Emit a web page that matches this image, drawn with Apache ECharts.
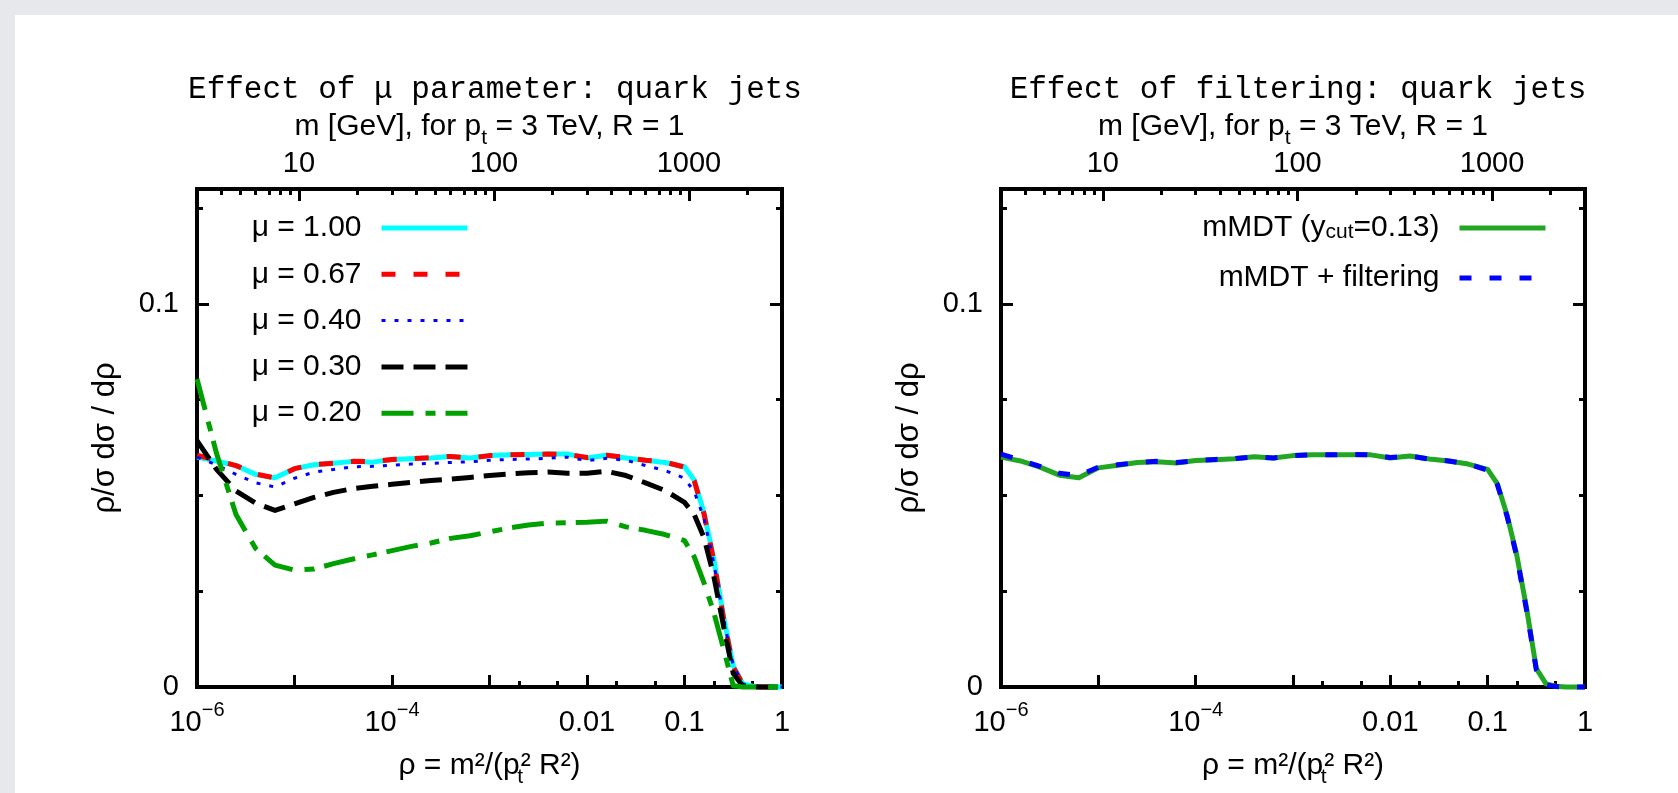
<!DOCTYPE html>
<html>
<head>
<meta charset="utf-8">
<script src="https://cdn.jsdelivr.net/npm/echarts@6/dist/echarts.min.js"></script>
<style>
html,body{margin:0;padding:0;background:#e6e8eb;}
#c{width:1678px;height:793px;}
</style>
</head>
<body>
<div id="c"></div>
<script>
// ---------------- data ----------------
// x positions: log10(rho)
const logRho = [-6.0,-5.8,-5.6,-5.4,-5.2,-5.0,-4.8,-4.6,-4.4,-4.2,-4.0,-3.8,-3.6,-3.4,-3.2,-3.0,-2.8,-2.6,-2.4,-2.2,-2.0,-1.8,-1.6,-1.4,-1.2,-1.0,-0.9,-0.8,-0.7,-0.6,-0.5,-0.4,-0.3,-0.2,-0.1,0.0];

// left panel: effect of mu
const mu100 = [0.0600,0.0590,0.0578,0.0555,0.0546,0.0570,0.0580,0.0584,0.0589,0.0587,0.0594,0.0596,0.0598,0.0602,0.0598,0.0604,0.0606,0.0607,0.0608,0.0608,0.0598,0.0605,0.0598,0.0592,0.0586,0.0575,0.0540,0.0455,0.0335,0.0185,0.0055,0.0008,0.0002,0,0,0];
const mu067 = [0.0605,0.0592,0.0578,0.0556,0.0546,0.0570,0.0581,0.0584,0.0589,0.0588,0.0594,0.0596,0.0599,0.0602,0.0598,0.0604,0.0606,0.0607,0.0608,0.0607,0.0599,0.0605,0.0599,0.0592,0.0587,0.0574,0.0538,0.0452,0.0330,0.0180,0.0052,0.0007,0.0001,0,0,0];
const mu040 = [0.0600,0.0580,0.0555,0.0533,0.0522,0.0545,0.0561,0.0568,0.0575,0.0576,0.0579,0.0582,0.0584,0.0586,0.0588,0.0592,0.0594,0.0595,0.0597,0.0600,0.0591,0.0597,0.0592,0.0578,0.0565,0.0545,0.0510,0.0440,0.0325,0.0180,0.0055,0.0008,0.0001,0,0,0];
const mu030 = [0.0643,0.0568,0.0512,0.0480,0.0461,0.0478,0.0495,0.0508,0.0518,0.0524,0.0529,0.0534,0.0539,0.0543,0.0547,0.0552,0.0556,0.0559,0.0561,0.0558,0.0558,0.0563,0.0552,0.0533,0.0513,0.0482,0.0450,0.0390,0.0290,0.0160,0.0035,0.0002,0,0,0,0];
const mu020 = [0.0804,0.0610,0.0450,0.0362,0.0318,0.0305,0.0308,0.0322,0.0334,0.0345,0.0356,0.0367,0.0376,0.0388,0.0395,0.0405,0.0415,0.0423,0.0428,0.0429,0.0430,0.0433,0.0418,0.0409,0.0398,0.0382,0.0340,0.0272,0.0195,0.0100,0.0003,0,0,0,0,0];

// right panel: effect of filtering
const mmdt = [0.0600,0.0590,0.0574,0.0553,0.0546,0.0572,0.0579,0.0586,0.0588,0.0585,0.0591,0.0593,0.0596,0.0601,0.0598,0.0604,0.0606,0.0606,0.0606,0.0606,0.0598,0.0603,0.0595,0.0590,0.0582,0.0568,0.0530,0.0448,0.0343,0.0205,0.0048,0.0008,0.0002,0,0,0];
const mmdtFilt = [0.0608,0.0592,0.0576,0.0558,0.0552,0.0574,0.0580,0.0586,0.0589,0.0586,0.0591,0.0594,0.0596,0.0601,0.0598,0.0604,0.0606,0.0606,0.0607,0.0606,0.0599,0.0603,0.0595,0.0590,0.0582,0.0566,0.0528,0.0445,0.0340,0.0200,0.0045,0.0006,0.0001,0,0,0];

// tick definitions
const bottomMajorRho = [1e-6,1e-5,1e-4,1e-3,1e-2,1e-1,1];
const bottomMinorRho = [0.002,0.005,0.02,0.05,0.2,0.5];
const bottomLabelRho = [1e-6,1e-4,0.01,0.1,1];
const bottomLabelText = ['{b|10}{s|\u22126}','{b|10}{s|\u22124}','{b|0.01}','{b|0.1}','{b|1}'];
const topMajorM = [10,100,1000];
const topMinorM = [4,5,6,7,8,9,20,30,40,50,60,70,80,90,200,300,400,500,600,700,800,900,2000];
const topLabelText = ['10','100','1000'];
const yMajor = [0,0.1];
const yMinor = [0.025,0.05,0.075,0.125];
const ptGeV = 3000, jetR = 1;

// ---------------- helpers ----------------
const SANS = '"Liberation Sans", Arial, Helvetica, sans-serif';
const MONO = '"Liberation Mono", "Courier New", monospace';
const L10 = Math.log10;
const mPos = m => 2 * L10(m / (ptGeV * jetR));
const zip = (xs, ys) => xs.map((x, i) => [x, ys[i]]);
const lookup = (pos, txt) => v => { for (let i = 0; i < pos.length; i++) if (Math.abs(pos[i] - v) < 1e-6) return txt[i]; return ''; };

const grids = [
  {left: 197, top: 189, width: 585, height: 499},
  {left: 1001, top: 189, width: 584, height: 499}
];

const FS = 29;
const tickStyle = {color: '#000', width: 3};
// tick labels: base digits centred in a tall line box, exponent at its top
const richBottom = {
  b: {fontFamily: SANS, fontSize: FS, lineHeight: 45, verticalAlign: 'middle', color: '#000'},
  s: {fontFamily: SANS, fontSize: 20, lineHeight: 20, verticalAlign: 'top', color: '#000'}
};
// name blocks: base tokens centred in a tall line box, subscript at its bottom
const richName = {
  b: {fontFamily: SANS, fontSize: 30, lineHeight: 44, verticalAlign: 'middle', color: '#000'},
  t: {fontFamily: SANS, fontSize: 21, lineHeight: 20, verticalAlign: 'bottom', color: '#000'},
  tz: {fontFamily: SANS, fontSize: 21, lineHeight: 20, verticalAlign: 'bottom', width: 1, color: '#000'}
};

const xAxes = [], yAxes = [];
grids.forEach((g, gi) => {
  xAxes.push({
    gridIndex: gi, type: 'value', position: 'bottom', min: -6, max: 0,
    axisLine: {show: false, onZero: false}, splitLine: {show: false},
    axisTick: {show: true, inside: true, length: 12, lineStyle: tickStyle, customValues: bottomMajorRho.map(L10)},
    axisLabel: {show: true, margin: 13, customValues: bottomLabelRho.map(L10),
      formatter: lookup(bottomLabelRho.map(L10), bottomLabelText), rich: richBottom},
    name: '{b|ρ = m²/(p}{tz|t}{b|² R²)}',
    nameLocation: 'middle', nameGap: 57, nameMoveOverlap: false, nameTextStyle: {rich: richName}
  });
  xAxes.push({
    gridIndex: gi, type: 'value', position: 'bottom', min: -6, max: 0,
    axisLine: {show: false, onZero: false}, splitLine: {show: false},
    axisTick: {show: true, inside: true, length: 6, lineStyle: tickStyle, customValues: bottomMinorRho.map(L10)},
    axisLabel: {show: false}
  });
  xAxes.push({
    gridIndex: gi, type: 'value', position: 'top', min: -6, max: 0,
    axisLine: {show: false, onZero: false}, splitLine: {show: false},
    axisTick: {show: true, inside: true, length: 12, lineStyle: tickStyle, customValues: topMajorM.map(mPos)},
    axisLabel: {show: true, margin: 11, fontFamily: SANS, fontSize: FS, lineHeight: FS, color: '#000',
      customValues: topMajorM.map(mPos), formatter: lookup(topMajorM.map(mPos), topLabelText)},
    name: '{b|m [GeV], for p}{t|t}{b| = 3 TeV, R = 1}',
    nameLocation: 'middle', nameGap: 40, nameMoveOverlap: false, nameTextStyle: {rich: richName}
  });
  xAxes.push({
    gridIndex: gi, type: 'value', position: 'top', min: -6, max: 0,
    axisLine: {show: false, onZero: false}, splitLine: {show: false},
    axisTick: {show: true, inside: true, length: 6, lineStyle: tickStyle, customValues: topMinorM.map(mPos)},
    axisLabel: {show: false}
  });
  ['left', 'right'].forEach(side => {
    yAxes.push({
      gridIndex: gi, type: 'value', position: side, min: 0, max: 0.13,
      axisLine: {show: false, onZero: false}, splitLine: {show: false},
      axisTick: {show: true, inside: true, length: 12, lineStyle: tickStyle, customValues: yMajor},
      axisLabel: {show: side === 'left', margin: 18, fontFamily: SANS, fontSize: FS, color: '#000', customValues: yMajor},
      name: side === 'left' ? 'ρ/σ dσ / dρ' : '',
      nameLocation: 'middle', nameGap: 76, nameRotate: 90, nameMoveOverlap: false,
      nameTextStyle: {fontFamily: SANS, fontSize: 31, color: '#000'}
    });
    yAxes.push({
      gridIndex: gi, type: 'value', position: side, min: 0, max: 0.13,
      axisLine: {show: false, onZero: false}, splitLine: {show: false},
      axisTick: {show: true, inside: true, length: 6, lineStyle: tickStyle, customValues: yMinor},
      axisLabel: {show: false}
    });
  });
});

function lineSeries(name, ys, gi, color, width, dash) {
  return {
    name, type: 'line', xAxisIndex: gi * 4, yAxisIndex: gi * 4,
    data: zip(logRho, ys), symbol: 'none', showSymbol: false, clip: false,
    itemStyle: {color},
    lineStyle: {color, width, type: dash || 'solid', cap: 'butt', join: 'round'},
    emphasis: {disabled: true}
  };
}

const series = [
  lineSeries('μ = 1.00', mu100, 0, '#00ffff', 5),
  lineSeries('μ = 0.67', mu067, 0, '#ff0000', 5, [14, 18]),
  lineSeries('μ = 0.40', mu040, 0, '#0000ff', 3, [4, 9]),
  lineSeries('μ = 0.30', mu030, 0, '#000000', 5, [22, 10]),
  lineSeries('μ = 0.20', mu020, 0, '#00a000', 5, [32, 12, 10, 10]),
  lineSeries('mMDT (ycut=0.13)', mmdt, 1, '#22a722', 5),
  lineSeries('mMDT + filtering', mmdtFilt, 1, '#0000ff', 5, [12, 18])
];

const legendText = {fontFamily: SANS, fontSize: 30, lineHeight: 30, color: '#000', padding: [0, 15, 0, 0]};
const legendItem = (name, w) => ({name, lineStyle: {width: w}});

const option = {
  animation: false,
  backgroundColor: '#e6e8eb',
  graphic: [{type: 'rect', z: -100, shape: {x: 15, y: 15, width: 1663, height: 790}, style: {fill: '#ffffff'}}],
  title: [
    {text: 'Effect of μ parameter: quark jets', left: 490, top: 69, textAlign: 'center',
     textStyle: {fontFamily: MONO, fontSize: 31, lineHeight: 31, fontWeight: 'normal', color: '#000'}},
    {text: 'Effect of filtering: quark jets', left: 1293, top: 69, textAlign: 'center',
     textStyle: {fontFamily: MONO, fontSize: 31, lineHeight: 31, fontWeight: 'normal', color: '#000'}}
  ],
  grid: grids.map(g => Object.assign({show: true, borderColor: '#000', borderWidth: 4, backgroundColor: 'transparent'}, g)),
  xAxis: xAxes,
  yAxis: yAxes,
  legend: [
    {
      orient: 'vertical', align: 'right', right: 1678 - 470, top: 213, padding: 0,
      itemWidth: 86, itemHeight: 36, itemGap: 16.3, selectedMode: false,
      itemStyle: {opacity: 0}, textStyle: legendText,
      data: [legendItem('μ = 1.00', 5), legendItem('μ = 0.67', 5), legendItem('μ = 0.40', 3), legendItem('μ = 0.30', 5), legendItem('μ = 0.20', 5)]
    },
    {
      orient: 'vertical', align: 'right', right: 1678 - 1548, top: 213, padding: 0,
      itemWidth: 86, itemHeight: 36, itemGap: 14, selectedMode: false,
      itemStyle: {opacity: 0},
      textStyle: Object.assign({}, legendText, {rich: {
        b: {fontFamily: SANS, fontSize: 30, lineHeight: 30, padding: [0,0,6,0], verticalAlign: 'top', color: '#000'},
        u: {fontFamily: SANS, fontSize: 21, lineHeight: 20, verticalAlign: 'bottom', color: '#000'}
      }}),
      formatter: name => name === 'mMDT (ycut=0.13)' ? '{b|mMDT (y}{u|cut}{b|=0.13)}' : '{b|' + name + '}',
      data: [legendItem('mMDT (ycut=0.13)', 5), legendItem('mMDT + filtering', 5)]
    }
  ],
  series
};

const chart = echarts.init(document.getElementById('c'), null, {renderer: 'canvas'});
chart.setOption(option);
</script>
</body>
</html>
